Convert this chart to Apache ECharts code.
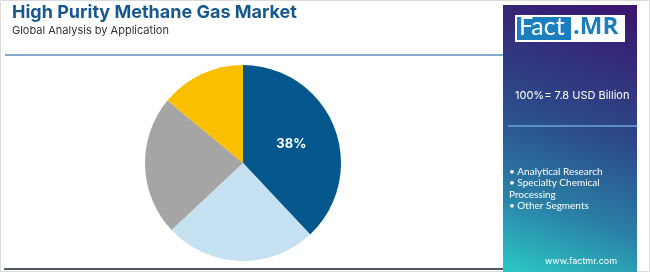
<!DOCTYPE html>
<html>
<head>
<meta charset="utf-8">
<script src="https://cdn.jsdelivr.net/npm/echarts@6/dist/echarts.min.js"></script>
<style>
html,body{margin:0;padding:0;background:#fff;}
#c{width:650px;height:272px;}
</style>
</head>
<body>
<div id="c"></div>
<script>
const title = 'High Purity Methane Gas Market';
const subtitle = 'Global Analysis by Application';
const categories = ['Analytical Research', 'Specialty Chemical Processing', 'Other Segments', 'Remaining Applications'];
const shares = [38, 25, 23, 14];
const sliceColors = ['#04578c', '#c6e1f2', '#a5a5a5', '#fcbf00'];
const totalText = '100%= 7.8 USD Billion';
const legendLines = ['• Analytical Research', '• Specialty Chemical', 'Processing', '• Other Segments'];
const siteText = 'www.factmr.com';

const chart = echarts.init(document.getElementById('c'), null, {renderer: 'canvas'});
const option = {
  backgroundColor: '#ffffff',
  animation: false,
  graphic: [
    {type: 'rect', shape: {x: 0.5, y: 0.5, width: 649, height: 271}, style: {fill: 'none', stroke: '#dcdcdc', lineWidth: 1}, z: 0},
    {type: 'text', left: 12, top: 4, style: {text: title, fill: '#17598f', font: 'bold 18px Inter, "Open Sans", sans-serif'}},
    {type: 'text', left: 12, top: 25, style: {text: subtitle, fill: '#333333', font: '11px Inter, "Open Sans", sans-serif'}},
    {type: 'line', shape: {x1: 5, y1: 55, x2: 503, y2: 55}, style: {stroke: '#5b8fbd', lineWidth: 1.5}},
    {type: 'line', shape: {x1: 4, y1: 269, x2: 503, y2: 269}, style: {stroke: '#4d5a6a', lineWidth: 2}},
    {type: 'rect', shape: {x: 503, y: 5, width: 134, height: 267},
      style: {fill: new echarts.graphic.LinearGradient(0.85, 0, 0.15, 1, [
        {offset: 0, color: '#3a166e'},
        {offset: 0.45, color: '#2c4a8a'},
        {offset: 0.75, color: '#2a7fa6'},
        {offset: 1, color: '#2cc3c3'}
      ])}},
    {type: 'rect', shape: {x: 515, y: 15, width: 110, height: 27}, style: {fill: '#ffffff'}},
    {type: 'rect', shape: {x: 517, y: 17, width: 54, height: 23}, style: {fill: '#1c7fbd'}},
    {type: 'text', left: 519, top: 14, style: {text: 'Fact', fill: '#ffffff', font: '25px Lato, "Open Sans", sans-serif'}},
    {type: 'text', left: 573, top: 15, style: {text: '.MR', fill: '#1c7fbd', font: 'bold 24px "Open Sans", sans-serif'}},
    {type: 'text', left: 515, top: 90, style: {text: totalText, fill: '#ffffff', font: '11px Inter, "Open Sans", sans-serif'}},
    {type: 'line', shape: {x1: 508, y1: 126, x2: 637, y2: 126}, style: {stroke: '#6aa7d8', lineWidth: 1.5}},
    {type: 'text', left: 509, top: 166, style: {text: legendLines.join('\n'), fill: '#ffffff', font: '10px Lato, "Open Sans", sans-serif', lineHeight: 11.5}},
    {type: 'text', left: 545, top: 257, style: {text: siteText, fill: '#ffffff', font: '9px Inter, "Open Sans", sans-serif'}}
  ],
  series: [{
    type: 'pie',
    center: [243, 163],
    radius: [0, 98],
    startAngle: 90,
    clockwise: true,
    silent: true,
    labelLine: {show: false},
    data: categories.map((name, i) => ({
      name: name,
      value: shares[i],
      itemStyle: {color: sliceColors[i]},
      label: i === 0 ? {show: true, position: 'inside', formatter: '{d}%', color: '#ffffff', fontWeight: 'bold', fontSize: 13, fontFamily: 'Inter, sans-serif'} : {show: false}
    }))
  }]
};
chart.setOption(option);
</script>
</body>
</html>
